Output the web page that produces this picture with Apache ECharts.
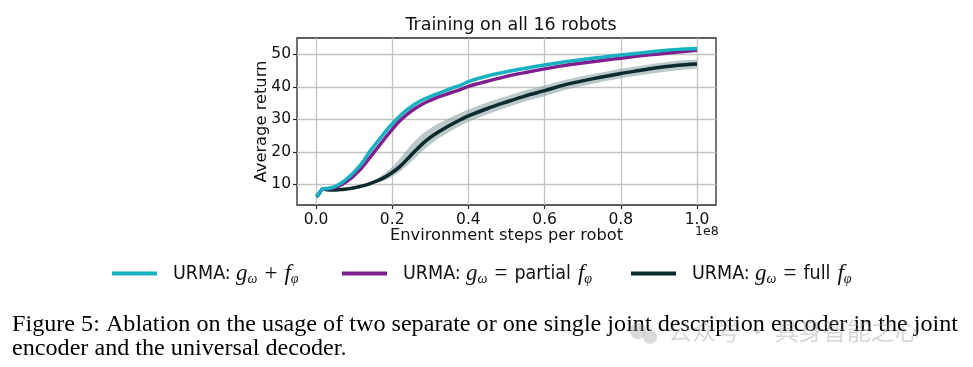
<!DOCTYPE html>
<html><head><meta charset="utf-8">
<script src="https://cdn.jsdelivr.net/npm/echarts@6/dist/echarts.min.js"></script>
<style>html,body{margin:0;padding:0;background:#fff}#c{width:973px;height:367px}</style>
</head><body><div id="c"></div>
<script>
// ---- data (x in units of 1e8 environment steps) ----
const steps = [0,0.005,0.01,0.015,0.02,0.03,0.04,0.05,0.06,0.07,0.08,0.09,0.10,0.12,0.14,0.16,0.18,0.20,0.22,0.24,0.26,0.28,0.30,0.32,0.34,0.36,0.38,0.40,0.45,0.50,0.55,0.60,0.65,0.70,0.75,0.80,0.85,0.90,0.95,1.00];
const urmaSum = [6.2,6.6,7.5,8.3,8.6, 8.7,8.9,9.3,9.9,10.7, 11.6,12.6,13.8,16.4,19.9, 22.9,25.9,28.6,31.0,33.0, 34.7,36.0,37.0,37.9,38.8, 39.7,40.5,41.6,43.3,44.6, 45.7,46.7,47.6,48.4,49.1, 49.8,50.4,51.0,51.5,51.8];
const urmaPartial = [6.2,6.6,7.5,8.3,8.6, 8.6,8.7,9.0,9.5,10.1, 10.8,11.7,12.7,15.0,18.0, 21.0,24.0,26.9,29.5,31.6, 33.3,34.7,35.8,36.8,37.6, 38.4,39.2,40.1,41.7,43.2, 44.4,45.5,46.5,47.3,48.1, 48.8,49.5,50.1,50.7,51.2];
const urmaFull = [6.2,6.6,7.5,8.3,8.5, 8.3,8.2,8.2,8.3,8.4, 8.5,8.7,8.9,9.4,10.1, 11.0,12.1,13.6,15.4,17.8, 20.2,22.5,24.4,26.0,27.4, 28.7,29.9,31.0,33.3,35.3, 37.2,38.8,40.5,41.8,43.0, 44.1,45.0,45.9,46.6,47.0];
const urmaFullHigh = [6.4,6.8,7.7,8.5,8.7, 8.5,8.4,8.4,8.5,8.6, 8.7,8.9,9.1,9.7,10.5, 11.6,13.4,15.3,17.8,20.8, 23.4,25.6,27.2,28.6,29.8, 30.9,32.0,33.0,35.2,37.1, 38.9,40.4,42.0,43.3,44.4, 45.5,46.4,47.3,48.0,48.4];
const urmaFullLow = [6.0,6.4,7.3,8.1,8.3, 8.1,8.0,8.0,8.1,8.2, 8.3,8.5,8.7,9.2,9.8, 10.6,11.2,12.3,13.8,15.8, 18.0,20.3,22.3,24.0,25.4, 26.8,28.1,29.2,31.5,33.6, 35.5,37.1,38.9,40.2,41.5, 42.6,43.5,44.4,45.1,45.6];
const xTicks = [0, 0.2, 0.4, 0.6, 0.8, 1.0];
const yTicks = [10, 20, 30, 40, 50];
const seriesNames = ['URMA: gω + fφ', 'URMA: gω = partial fφ', 'URMA: gω = full fφ'];
const title = 'Training on all 16 robots';
const xName = 'Environment steps per robot';
const yName = 'Average return';
const captionLines = ['Figure 5: Ablation on the usage of two separate or one single joint description encoder in the joint',
                      'encoder and the universal decoder.'];
const watermark = '公众号 · 具身智能之心';

const C_CYAN = '#16b2c2', C_PURPLE = '#7f1f8f', C_DARK = '#0b2a2e', C_BAND = 'rgba(140,165,165,0.6)';
const SANS = "'DejaVu Sans', sans-serif";
const LEG = "'Liberation Sans Narrow','DejaVu Sans Condensed','Liberation Sans',sans-serif";
const SERIF = "'Liberation Serif','DejaVu Serif',serif";

const pair = (arr) => steps.map((s, i) => [s, arr[i]]);

const legendRich = {
  a: {fontFamily: LEG, fontSize: 19.5, color: '#111', lineHeight: 26, verticalAlign: 'middle', padding: [0,2,0,11]},
  t: {fontFamily: LEG, fontSize: 19.5, color: '#111', lineHeight: 26, verticalAlign: 'middle', padding: [0,7,0,0]},
  m: {fontFamily: SERIF, fontStyle: 'italic', fontSize: 23, color: '#111', lineHeight: 26, verticalAlign: 'middle'},
  o: {fontFamily: SERIF, fontSize: 23, color: '#111', lineHeight: 26, verticalAlign: 'middle', padding: [0,7,0,7]},
  s: {fontFamily: SERIF, fontStyle: 'italic', fontSize: 14, color: '#111', lineHeight: 15, verticalAlign: 'bottom'}
};
const legendFmt = {
  [seriesNames[0]]: '{a|URMA:} {m|g}{s|ω}{o|+}{m|f}{s|φ}',
  [seriesNames[1]]: '{a|URMA:} {m|g}{s|ω}{o|=}{t|partial}{m|f}{s|φ}',
  [seriesNames[2]]: '{a|URMA:} {m|g}{s|ω}{o|=}{t|full}{m|f}{s|φ}'
};
function mkLegend(name, left) {
  return {data: [name], left: left, top: 262, icon: 'rect', itemWidth: 45, itemHeight: 4,
    padding: 0, formatter: (n) => legendFmt[n], textStyle: {rich: legendRich}};
}

// caption: 22.5px serif stretched to the caption width
const CAP_FONT = "22.5px 'Liberation Serif'";
const cv = document.createElement('canvas').getContext('2d');
cv.font = CAP_FONT;
const capScale = 946 / cv.measureText(captionLines[0]).width;

const chart = echarts.init(document.getElementById('c'), null, {renderer: 'canvas'});
chart.setOption({
  animation: false,
  backgroundColor: '#fff',
  title: {text: title, left: 506, top: 11, textAlign: 'center',
    textStyle: {fontFamily: SANS, fontSize: 17.5, fontWeight: 'normal', color: '#111'}},
  grid: [
    {left: 297, right: 257, top: 38, bottom: 162, show: true, borderColor: '#2a2a2a', borderWidth: 1.3, backgroundColor: 'transparent'},
    {left: 316, right: 276, top: 38, bottom: 162},
    {left: 297, right: 257, top: 54.3, bottom: 182.7}
  ],
  xAxis: [
    {gridIndex: 0, type: 'value', min: -0.05, max: 1.05, axisLine: {show: false}, axisTick: {show: false},
     axisLabel: {show: false}, splitLine: {show: false},
     name: xName, nameLocation: 'middle', nameGap: 23,
     nameTextStyle: {fontFamily: SANS, fontSize: 16.3, color: '#111'}},
    {gridIndex: 1, type: 'value', min: xTicks[0], max: xTicks[xTicks.length - 1], interval: 0.2,
     axisLine: {show: false}, axisTick: {show: true, length: 4, lineStyle: {color: '#2a2a2a', width: 1.2}},
     axisLabel: {fontFamily: SANS, fontSize: 15.5, color: '#111', margin: 7, formatter: (v) => v.toFixed(1)},
     splitLine: {show: true, lineStyle: {color: '#c4c4c4', width: 1.3}}},
    {gridIndex: 2, type: 'value', show: false, min: 0, max: 1}
  ],
  yAxis: [
    {gridIndex: 0, type: 'value', min: 3.6, max: 55, axisLine: {show: false}, axisTick: {show: false},
     axisLabel: {show: false}, splitLine: {show: false},
     name: yName, nameLocation: 'middle', nameGap: 27, nameRotate: 90,
     nameTextStyle: {fontFamily: SANS, fontSize: 16.3, color: '#111'}},
    {gridIndex: 1, type: 'value', show: false, min: 0, max: 1},
    {gridIndex: 2, type: 'value', min: yTicks[0], max: yTicks[yTicks.length - 1], interval: 10,
     axisLine: {show: false}, axisTick: {show: true, length: 4, lineStyle: {color: '#2a2a2a', width: 1.2}},
     axisLabel: {fontFamily: SANS, fontSize: 15.5, color: '#111', margin: 6},
     splitLine: {show: true, lineStyle: {color: '#c4c4c4', width: 1.3}}}
  ],
  legend: [mkLegend(seriesNames[0], 112), mkLegend(seriesNames[1], 342), mkLegend(seriesNames[2], 631)],
  series: [
    {type: 'custom', name: 'band', xAxisIndex: 0, yAxisIndex: 0, silent: true,
     data: steps.map((s, i) => [s, urmaFullLow[i], urmaFullHigh[i]]),
     encode: {x: 0, y: [1, 2]},
     renderItem: function (params, api) {
       if (params.dataIndex !== 0) return null;
       const pts = [];
       for (let i = 0; i < steps.length; i++) pts.push(api.coord([steps[i], urmaFullHigh[i]]));
       for (let i = steps.length - 1; i >= 0; i--) pts.push(api.coord([steps[i], urmaFullLow[i]]));
       return {type: 'polygon', shape: {points: pts}, style: {fill: C_BAND}};
     }},
    {type: 'line', name: seriesNames[2], xAxisIndex: 0, yAxisIndex: 0, symbol: 'none', smooth: 0.3,
     color: C_DARK, lineStyle: {color: C_DARK, width: 3.5}, data: pair(urmaFull)},
    {type: 'line', name: seriesNames[1], xAxisIndex: 0, yAxisIndex: 0, symbol: 'none', smooth: 0.3,
     color: C_PURPLE, lineStyle: {color: C_PURPLE, width: 3.5}, data: pair(urmaPartial)},
    {type: 'line', name: seriesNames[0], xAxisIndex: 0, yAxisIndex: 0, symbol: 'none', smooth: 0.3,
     color: C_CYAN, lineStyle: {color: C_CYAN, width: 3.5}, data: pair(urmaSum)}
  ],
  graphic: [
    {type: 'text', left: 695, top: 225, style: {text: '1e8', font: "12.5px 'DejaVu Sans'", fill: '#111'}},
    {type: 'text', x: 12, y: 314, scaleX: capScale, style: {text: captionLines[0], font: CAP_FONT, fill: '#000'}},
    {type: 'text', x: 12, y: 338, scaleX: capScale, style: {text: captionLines[1], font: CAP_FONT, fill: '#000'}},
    {type: 'circle', z: 10, shape: {cx: 638, cy: 331, r: 8}, style: {fill: 'rgba(150,150,150,0.35)'}},
    {type: 'circle', z: 10, shape: {cx: 650, cy: 337, r: 7}, style: {fill: 'rgba(150,150,150,0.35)'}},
    {type: 'text', x: 668, y: 319, z: 10, style: {text: watermark, font: "24px 'Noto Sans CJK SC'", fill: 'rgba(150,150,150,0.38)'}}
  ]
});
</script></body></html>
